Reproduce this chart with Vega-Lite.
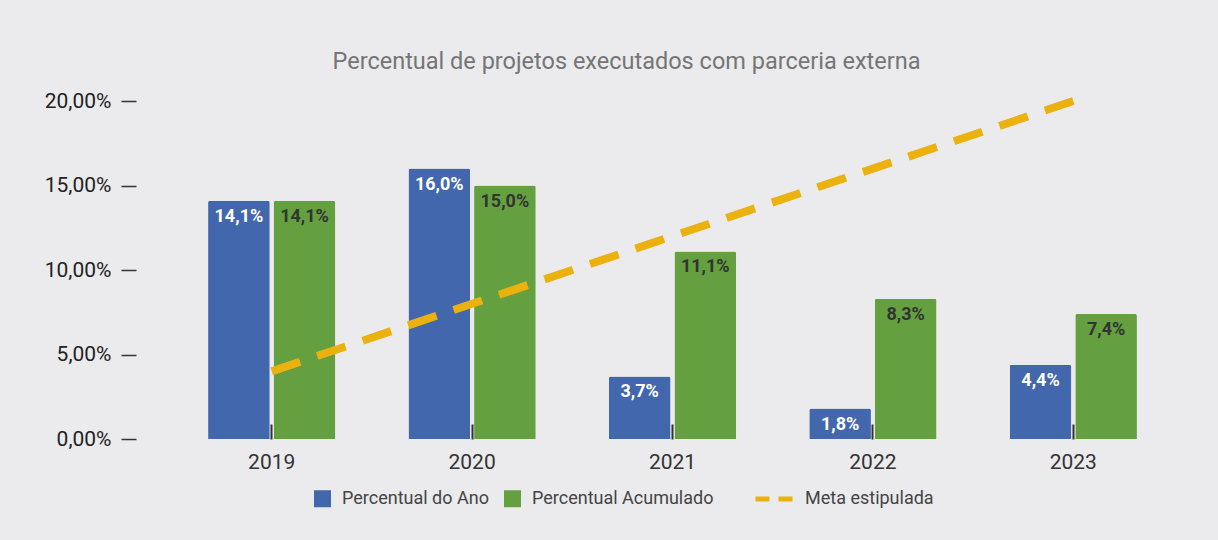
{
  "$schema": "https://vega.github.io/schema/vega-lite/v6.json",
  "autosize": "none",
  "width": 1001,
  "height": 338,
  "padding": {"left": 172, "top": 101, "right": 45, "bottom": 101},
  "background": "#ebebed",
  "title": {
    "text": "Percentual de projetos executados com parceria externa",
    "font": "Roboto", "fontSize": 23.5, "fontWeight": "normal", "color": "#757575",
    "anchor": "middle", "frame": "group", "dx": -46, "offset": 12
  },
  "data": {"values": [
    {"ano": "2019", "serie": "Percentual do Ano", "valor": 0.141},
    {"ano": "2019", "serie": "Percentual Acumulado", "valor": 0.141},
    {"ano": "2020", "serie": "Percentual do Ano", "valor": 0.160},
    {"ano": "2020", "serie": "Percentual Acumulado", "valor": 0.150},
    {"ano": "2021", "serie": "Percentual do Ano", "valor": 0.037},
    {"ano": "2021", "serie": "Percentual Acumulado", "valor": 0.111},
    {"ano": "2022", "serie": "Percentual do Ano", "valor": 0.018},
    {"ano": "2022", "serie": "Percentual Acumulado", "valor": 0.083},
    {"ano": "2023", "serie": "Percentual do Ano", "valor": 0.044},
    {"ano": "2023", "serie": "Percentual Acumulado", "valor": 0.074},
    {"ano": "2019", "serie": "Meta estipulada", "valor": 0.04},
    {"ano": "2020", "serie": "Meta estipulada", "valor": 0.08},
    {"ano": "2021", "serie": "Meta estipulada", "valor": 0.12},
    {"ano": "2022", "serie": "Meta estipulada", "valor": 0.16},
    {"ano": "2023", "serie": "Meta estipulada", "valor": 0.20}
  ]},
  "encoding": {
    "x": {"field": "ano", "type": "nominal",
      "scale": {"paddingInner": 0.365, "paddingOuter": 0.18},
      "axis": {"title": null, "labelAngle": 0, "domain": false, "tickSize": -15, "tickColor": "#333333", "tickWidth": 2,
        "labelFont": "Roboto", "labelFontSize": 21, "labelColor": "#333333", "labelPadding": 27}},
    "y": {"field": "valor", "type": "quantitative",
      "scale": {"domain": [0, 0.2], "nice": false},
      "axis": {"title": null, "values": [0, 0.05, 0.1, 0.15, 0.2], "format": ".2%", "grid": false, "domain": false,
        "offset": 36, "tickSize": 15, "tickColor": "#333333", "tickWidth": 1.5, "labelPadding": 10,
        "labelFont": "Roboto", "labelFontSize": 21, "labelColor": "#222222"}}
  },
  "layer": [
    {
      "transform": [{"filter": "datum.serie !== 'Meta estipulada'"}],
      "mark": {"type": "bar", "cornerRadiusTopLeft": 2, "cornerRadiusTopRight": 2},
      "encoding": {
        "xOffset": {"field": "serie", "type": "nominal", "sort": ["Percentual do Ano", "Percentual Acumulado"],
          "scale": {"paddingInner": 0.06, "paddingOuter": 0}},
        "color": {"field": "serie", "type": "nominal",
          "scale": {"domain": ["Percentual do Ano", "Percentual Acumulado"],
                    "range": ["#4267ac", "#64a040"]},
          "legend": {
            "orient": "none", "legendX": 141, "legendY": 388, "direction": "horizontal", "title": null,
            "labelFont": "Roboto", "labelFontSize": 18, "labelColor": "#444444", "labelLimit": 400,
            "symbolType": "square", "symbolSize": 289, "columnPadding": 14, "labelOffset": 10
          }}
      }
    },
    {
      "transform": [{"filter": "datum.serie !== 'Meta estipulada'"}],
      "mark": {"type": "text", "baseline": "top", "dy": 7, "font": "Roboto", "fontSize": 18, "fontWeight": "bold"},
      "encoding": {
        "xOffset": {"field": "serie", "type": "nominal", "sort": ["Percentual do Ano", "Percentual Acumulado"],
          "scale": {"paddingInner": 0.06, "paddingOuter": 0}},
        "text": {"field": "valor", "type": "quantitative", "format": ".1%"},
        "color": {"condition": {"test": "datum.serie === 'Percentual do Ano'", "value": "#ffffff"}, "value": "#333333"}
      }
    },
    {
      "transform": [{"filter": "datum.serie === 'Meta estipulada'"}],
      "mark": {"type": "line", "color": "#ebb20f", "strokeWidth": 8, "strokeCap": "butt", "strokeDash": [30, 18]},
      "encoding": {
        "opacity": {"datum": "Meta estipulada", "type": "nominal",
          "scale": {"domain": ["Meta estipulada"], "range": [1]},
          "legend": {
            "orient": "none", "legendX": 581, "legendY": 377, "direction": "horizontal", "title": null,
            "labelFont": "Roboto", "labelFontSize": 18, "labelColor": "#444444", "labelLimit": 400,
            "symbolType": "stroke", "symbolSize": 1369, "symbolStrokeColor": "#ebb20f", "symbolStrokeWidth": 5,
            "symbolDash": [14, 9], "labelOffset": 10,
            "encode": {"symbols": {"update": {
              "strokeDash": {"signal": "[14, 9]"}
            }}}
          }}
      }
    }
  ],
  "config": {
    "view": {"stroke": null},
    "locale": {"number": {"decimal": ",", "thousands": ".", "grouping": [3], "currency": ["R$", ""]}}
  }
}
